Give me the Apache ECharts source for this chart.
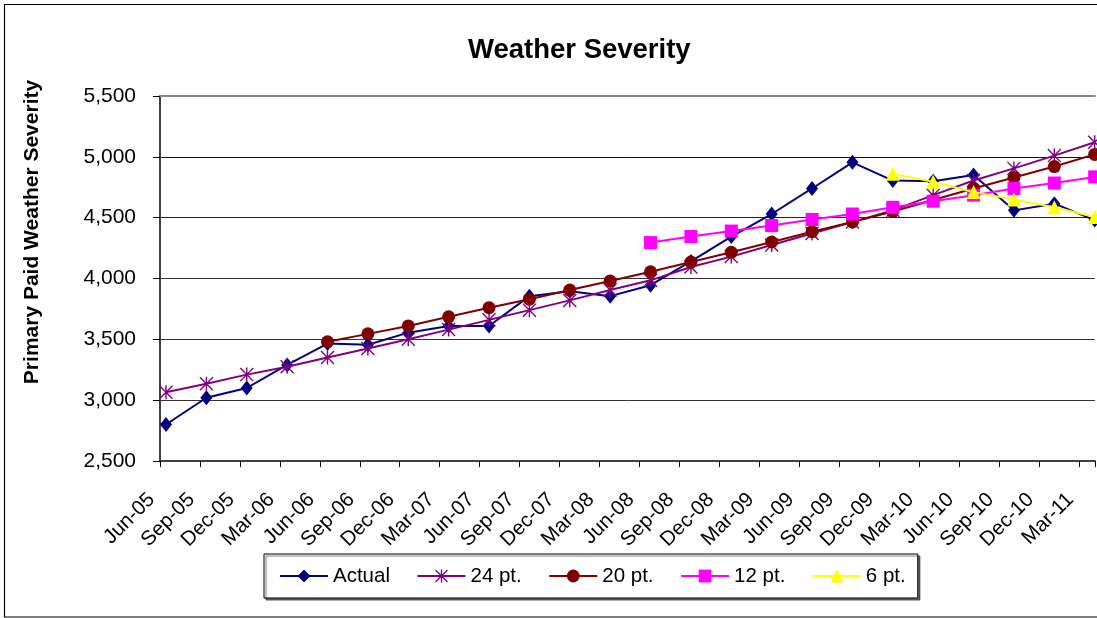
<!DOCTYPE html>
<html><head><meta charset="utf-8">
<script src="https://cdn.jsdelivr.net/npm/echarts@6/dist/echarts.min.js"></script>
<style>html,body{margin:0;padding:0;background:#fff}#c{width:1097px;height:618px}</style>
</head><body><div id="c"></div>
<script>
const categories = ['Jun-05','Sep-05','Dec-05','Mar-06','Jun-06','Sep-06','Dec-06','Mar-07','Jun-07','Sep-07','Dec-07','Mar-08','Jun-08','Sep-08','Dec-08','Mar-09','Jun-09','Sep-09','Dec-09','Mar-10','Jun-10','Sep-10','Dec-10','Mar-11'];
const actual = [2800,3020,3100,3290,3465,3455,3555,3610,3610,3855,3895,3855,3945,4140,4345,4530,4740,4955,4805,4800,4850,4560,4615,4480];
const pt24 = [3065,3135,3210,3275,3350,3425,3500,3580,3660,3740,3820,3905,3985,4095,4180,4275,4370,4465,4560,4685,4805,4905,5010,5120];
const pt20 = [null,null,null,null,3480,3545,3610,3685,3760,3830,3905,3980,4055,4135,4215,4300,4385,4465,4550,4645,4740,4830,4920,5020];
const pt12 = [null,null,null,null,null,null,null,null,null,null,null,null,4295,4345,4390,4435,4485,4530,4585,4635,4685,4740,4785,4835];
const pt6 = [null,null,null,null,null,null,null,null,null,null,null,null,null,null,null,null,null,null,4860,4795,4710,4650,4585,4505];
const seriesNames = ['Actual','24 pt.','20 pt.','12 pt.','6 pt.'];
const chartTitle = 'Weather Severity';
const yAxisTitle = 'Primary Paid Weather Severity';

const FONT = "'Liberation Sans', Arial, sans-serif";
const asterisk = 'path://M9 0L11 0L11 20L9 20ZM0 1.4L1.4 0L20 18.6L18.6 20ZM18.6 0L20 1.4L1.4 20L0 18.6Z';
const fmtNum = v => String(v).replace(/\B(?=(\d{3})+(?!\d))/g, ',');

const chart = echarts.init(document.getElementById('c'), null, {renderer: 'canvas'});
function mk(name, data, color, symbol, size, z) {
  return {
    name, type: 'line', data, xAxisIndex: 2, yAxisIndex: 1,
    symbol, symbolSize: size, clip: false, connectNulls: false,
    lineStyle: {color, width: 2}, itemStyle: {color}, z,
    emphasis: {disabled: true}, animation: false
  };
}
chart.setOption({
  animation: false,
  backgroundColor: '#fff',
  title: {
    text: chartTitle, left: 463, top: 31,
    textStyle: {fontFamily: FONT, fontWeight: 'bold', fontSize: 27.5, color: '#000'}
  },
  legend: {
    data: seriesNames, left: 264, top: 554, orient: 'horizontal',
    padding: [11, 12, 11, 15], itemGap: 26.5, itemWidth: 48, itemHeight: 16,
    borderColor: '#000', borderWidth: 1, backgroundColor: '#fff',
    shadowColor: 'rgba(0,0,0,0.55)', shadowOffsetX: 2, shadowOffsetY: 2, shadowBlur: 1,
    textStyle: {fontFamily: FONT, fontSize: 20.5, color: '#000', lineHeight: 22},
    selectedMode: false
  },
  grid: [
    {left: 160, right: -8, top: 96, bottom: 157, containLabel: false},
    {left: 166, right: 2.3, top: 96, bottom: 157, containLabel: false}
  ],
  xAxis: [
    {
      gridIndex: 0, type: 'value', position: 'bottom', min: 0, max: 23.4, interval: 1,
      axisLine: {show: true, lineStyle: {color: '#404040', width: 2}},
      axisTick: {show: true, length: 6, lineStyle: {color: '#000', width: 1}},
      splitLine: {show: false},
      axisLabel: {
        rotate: 45, margin: 27, padding: [0, 12, 0, 0],
        fontFamily: FONT, fontSize: 20.5, color: '#000',
        showMinLabel: true, showMaxLabel: true,
        formatter: v => (Number.isInteger(v) && categories[v]) ? categories[v] : ''
      }
    },
    {
      gridIndex: 0, type: 'value', position: 'top', min: 0, max: 23.4,
      axisLine: {show: true, lineStyle: {color: '#888', width: 2}},
      axisTick: {show: false}, axisLabel: {show: false}, splitLine: {show: false}
    },
    {
      gridIndex: 1, type: 'category', data: categories, boundaryGap: false,
      axisLine: {show: false}, axisTick: {show: false}, axisLabel: {show: false}, splitLine: {show: false}
    }
  ],
  yAxis: [
    {
      gridIndex: 0, type: 'value', min: 2500, max: 5500, interval: 500,
      axisLine: {show: true, lineStyle: {color: '#404040', width: 2}},
      axisTick: {show: true, length: 7, lineStyle: {color: '#000', width: 1}},
      axisLabel: {margin: 24, fontFamily: FONT, fontSize: 21, color: '#000', formatter: fmtNum},
      splitLine: {show: true, lineStyle: {color: ['#333','#333','#333','#333','#222','#111','#888'], width: 1}}
    },
    {
      gridIndex: 1, type: 'value', min: 2500, max: 5500, interval: 500,
      axisLine: {show: false}, axisTick: {show: false}, axisLabel: {show: false}, splitLine: {show: false}
    }
  ],
  graphic: [
    {type: 'rect', shape: {x: 4.5, y: 4.5, width: 1200, height: 612.5},
     style: {fill: 'none', stroke: '#000', lineWidth: 1.2}, silent: true, z: 100},
    {type: 'text', x: 32, y: 232, rotation: Math.PI / 2,
     style: {text: yAxisTitle, fontFamily: FONT, fontWeight: 'bold', fontSize: 21, fill: '#000',
             align: 'center', verticalAlign: 'middle'}, silent: true}
  ],
  series: [
    mk(seriesNames[0], actual, '#000080', 'diamond', [12, 15], 2),
    mk(seriesNames[1], pt24, '#800080', asterisk, 14, 3),
    mk(seriesNames[2], pt20, '#800000', 'circle', 13, 4),
    mk(seriesNames[3], pt12, '#FF00FF', 'rect', 13, 5),
    mk(seriesNames[4], pt6, '#FFFF00', 'triangle', 14, 6)
  ]
});
</script></body></html>
